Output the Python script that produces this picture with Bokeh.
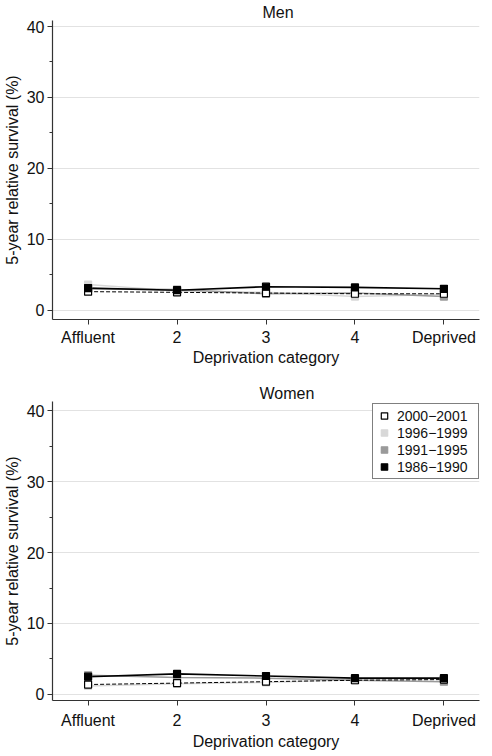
from bokeh.plotting import figure
from bokeh.layouts import column
from bokeh.models import Range1d, FixedTicker, Legend, LegendItem, ColumnDataSource
from bokeh.embed import file_html
from bokeh.resources import INLINE

categories = ["Affluent", "2", "3", "4", "Deprived"]
periods = ["2000\u22122001", "1996\u22121999", "1991\u22121995", "1986\u22121990"]

men_2000_2001 = [2.6, 2.5, 2.4, 2.3, 2.3]
men_1996_1999 = [3.6, 2.7, 2.5, 1.9, 2.2]
men_1991_1995 = [3.0, 2.9, 2.3, 2.4, 1.9]
men_1986_1990 = [3.1, 2.8, 3.3, 3.2, 3.0]

women_2000_2001 = [1.4, 1.6, 1.8, 2.0, 2.1]
women_1996_1999 = [1.2, 1.5, 1.7, 2.1, 2.2]
women_1991_1995 = [2.7, 2.4, 2.3, 2.0, 1.8]
women_1986_1990 = [2.5, 2.9, 2.6, 2.3, 2.3]

y_ticks = [0, 10, 20, 30, 40]
y_minor = [5, 15, 25, 35]

FONT = "Liberation Sans"
FS = "16px"

xs = list(range(1, len(categories) + 1))

styles = [
    dict(lc="black", lw=1.0, dash="4 2", fill="white", ml="black"),
    dict(lc="#d8d8d8", lw=1.5, dash="solid", fill="#d8d8d8", ml="#d8d8d8"),
    dict(lc="#9a9a9a", lw=1.5, dash="solid", fill="#9a9a9a", ml="#9a9a9a"),
    dict(lc="black", lw=1.6, dash="solid", fill="black", ml="black"),
]


def make_panel(title, series, height, top, title_offset, y0, y1, xl_standoff, xa_standoff, with_legend):
    p = figure(width=480, height=height, output_backend="svg", toolbar_location=None,
               x_range=Range1d(0.6, 5.4), y_range=Range1d(y0, y1),
               min_border_left=48, min_border_right=1, min_border_top=top,
               min_border_bottom=0)
    p.outline_line_color = None
    p.background_fill_color = "white"
    p.border_fill_color = "white"
    p.xgrid.grid_line_color = None
    p.ygrid.grid_line_color = "#e2e2e2"
    p.ygrid.grid_line_width = 1

    p.title.text = title
    p.title.text_font = FONT
    p.title.text_font_size = FS
    p.title.text_font_style = "normal"
    p.title.text_color = "#111111"
    p.title.align = "left"
    p.title.offset = title_offset
    p.title.standoff = 0

    p.xaxis.ticker = FixedTicker(ticks=xs)
    p.xaxis.major_label_overrides = {x: c for x, c in zip(xs, categories)}
    p.yaxis.ticker = FixedTicker(ticks=y_ticks, minor_ticks=y_minor)
    for ax in (p.xaxis[0], p.yaxis[0]):
        ax.axis_line_color = "#333333"
        ax.axis_line_width = 1.2
        ax.major_tick_line_color = "#333333"
        ax.major_tick_out = 5
        ax.major_tick_in = 0
        ax.minor_tick_line_color = "#333333"
        ax.minor_tick_out = 3
        ax.minor_tick_in = 0
        ax.major_label_text_font = FONT
        ax.major_label_text_font_size = FS
        ax.major_label_text_color = "#111111"
        ax.axis_label_text_font = FONT
        ax.axis_label_text_font_size = FS
        ax.axis_label_text_font_style = "normal"
        ax.axis_label_text_color = "#111111"
    p.xaxis.minor_tick_line_color = None
    p.xaxis.major_label_standoff = xl_standoff
    p.xaxis.axis_label_standoff = xa_standoff
    p.yaxis.major_label_standoff = 3
    p.yaxis.axis_label_standoff = 3
    p.xaxis.axis_label = "Deprivation category"
    p.yaxis.axis_label = "5-year relative survival (%)"

    order = [1, 2, 0, 3]
    for i in order:
        st = styles[i]
        p.line(xs, series[i], line_color=st["lc"], line_width=st["lw"], line_dash=st["dash"])
    marker_r = {}
    for i in order:
        st = styles[i]
        src = ColumnDataSource(dict(x=xs, y=series[i]))
        marker_r[i] = p.scatter("x", "y", source=src, marker="square", size=7,
                                fill_color=st["fill"], line_color=st["ml"], line_width=1.2)

    if with_legend:
        items = [LegendItem(label=periods[i], renderers=[marker_r[i]]) for i in range(4)]
        leg = Legend(items=items, location=(320, 221), margin=0,
                     label_text_font=FONT, label_text_font_size="14px",
                     label_text_color="#111111",
                     glyph_height=17, glyph_width=16, label_height=17, label_width=78,
                     spacing=0, padding=3, label_standoff=5,
                     border_line_color="black", border_line_width=1,
                     background_fill_alpha=1.0)
        p.add_layout(leg, "center")
    return p


p1 = make_panel("Men", [men_2000_2001, men_1996_1999, men_1991_1995, men_1986_1990],
                height=368, top=20, title_offset=210, y0=-1.33, y1=40.85,
                xl_standoff=4, xa_standoff=0, with_legend=False)
p2 = make_panel("Women", [women_2000_2001, women_1996_1999, women_1991_1995, women_1986_1990],
                height=384, top=33, title_offset=207, y0=-0.85, y1=41.28,
                xl_standoff=6, xa_standoff=1, with_legend=True)

layout = column(p1, p2, spacing=0)
open("out.html", "w").write(file_html(layout, INLINE))
